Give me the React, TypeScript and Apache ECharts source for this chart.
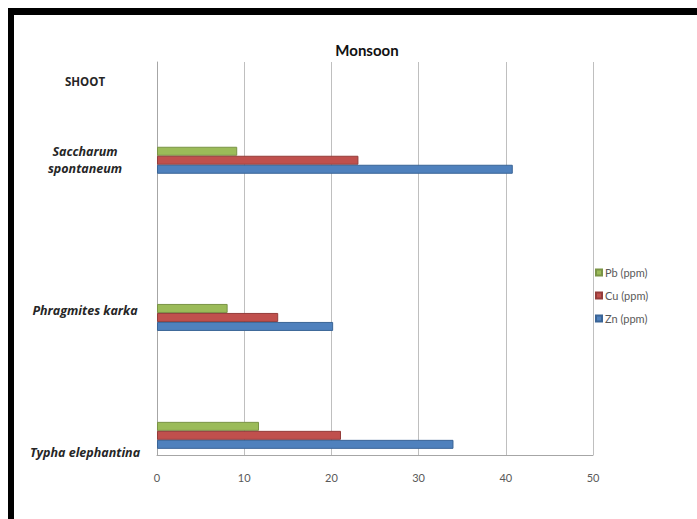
import React, { useEffect, useRef } from "react";
import * as echarts from "echarts";

const categories = [
  "Typha elephantina",
  "",
  "",
  "Phragmites karka",
  "",
  "",
  "",
  "Saccharum\nspontaneum",
  "",
  "SHOOT",
];
const znValues = [34, null, null, 20.2, null, null, null, 40.8, null, null];
const cuValues = [21.1, null, null, 13.9, null, null, null, 23.1, null, null];
const pbValues = [11.7, null, null, 8.1, null, null, null, 9.2, null, null];
const xTicks = [0, 10, 20, 30, 40, 50];
const seriesNames = ["Pb (ppm)", "Cu (ppm)", "Zn (ppm)"];

export default function App() {
  const ref = useRef<HTMLDivElement>(null);
  useEffect(() => {
    if (!ref.current) return;
    const chart = echarts.init(ref.current, null, { renderer: "svg" });
    const font = "Lato, 'Open Sans', sans-serif";
    const lblFont = "'Open Sans', Lato, sans-serif";
    const mk = (name: string, data: (number | null)[], color: string, border: string) => ({
      name,
      type: "bar",
      data,
      barWidth: 9,
      barGap: "0%",
      itemStyle: { color, borderColor: border, borderWidth: 1 },
    });
    chart.setOption({
      animation: false,
      backgroundColor: "#ffffff",
      textStyle: { fontFamily: font },
      title: {
        text: "Monsoon",
        left: 362,
        textAlign: "center",
        top: 37,
        textStyle: { fontSize: 15, fontWeight: "bold", color: "#111", fontFamily: font },
      },
      legend: {
        orient: "vertical",
        left: 590,
        top: 262,
        itemWidth: 6,
        itemHeight: 6,
        itemGap: 12,
        icon: "rect",
        data: ["Pb (ppm)", "Cu (ppm)", "Zn (ppm)"],
        textStyle: { fontSize: 11, color: "#595959", fontFamily: font, padding: [0, 0, 0, -2] },
      },
      grid: { left: 157, right: 104, top: 62, bottom: 64 },
      xAxis: {
        type: "value",
        min: xTicks[0],
        max: xTicks[xTicks.length - 1],
        interval: 10,
        axisLine: { show: true, lineStyle: { color: "#a6a6a6" } },
        axisTick: { show: false },
        splitLine: { show: true, lineStyle: { color: "#bfbfbf", width: 1 } },
        axisLabel: { color: "#595959", fontSize: 11, margin: 17, fontFamily: font },
      },
      yAxis: {
        type: "category",
        data: categories,
        axisLine: { show: true, lineStyle: { color: "#a6a6a6" } },
        axisTick: { show: false },
        splitLine: { show: false },
        axisLabel: {
          interval: 0,
          align: "center",
          margin: 72,
          formatter: (v: string, i: number) => {
            if (!v) return "";
            if (i === 0) return "{d|" + v + "}";
            if (i === 3) return "{u|" + v + "}";
            if (i === 9) return "{s|" + v + "}";
            return v
              .split("\n")
              .map((l) => "{n|" + l + "}")
              .join("\n");
          },
          rich: {
            d: { fontSize: 12.5, fontWeight: "bold", fontStyle: "italic", color: "#262626", fontFamily: lblFont, padding: [34, 0, 0, 0] },
            u: { fontSize: 12.5, fontWeight: "bold", fontStyle: "italic", color: "#262626", fontFamily: lblFont, padding: [0, 0, 14, 0] },
            n: { fontSize: 12.5, fontWeight: "bold", fontStyle: "italic", color: "#262626", fontFamily: lblFont, lineHeight: 17 },
            s: { fontSize: 11.5, fontWeight: "bold", color: "#262626", fontFamily: lblFont },
          },
        },
      },
      graphic: [
        { type: "rect", shape: { x: 8, y: 8, width: 689, height: 7 }, style: { fill: "#000" } },
        { type: "rect", shape: { x: 8, y: 8, width: 6, height: 511 }, style: { fill: "#000" } },
      ],
      series: [
        mk(seriesNames[0], pbValues, "#9BBB59", "#7A9446"),
        mk(seriesNames[1], cuValues, "#C0504D", "#943C3A"),
        mk(seriesNames[2], znValues, "#4F81BD", "#3A6496"),
      ],
    });
    return () => chart.dispose();
  }, []);
  return (
    <div
      ref={ref}
      style={{ position: "fixed", left: 0, top: 0, width: 697, height: 519 }}
    />
  );
}
